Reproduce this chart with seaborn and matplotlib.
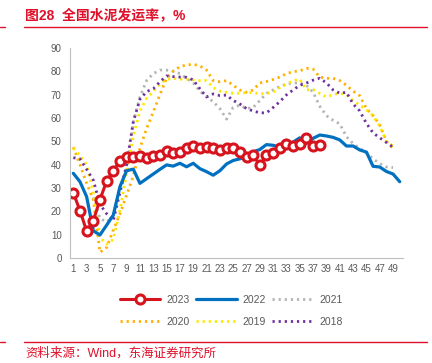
import numpy as np
import pandas as pd
import matplotlib
matplotlib.use("Agg")
import matplotlib.pyplot as plt
import seaborn as sns
from matplotlib.lines import Line2D

sns.set_style("white")
plt.rcParams['font.family'] = ['Liberation Sans', 'Noto Sans CJK SC', 'DejaVu Sans']

# ---------------- data ----------------
y2023 = [28, 20.3, 11.6, 16, 25, 33, 37.3, 41.7, 43.4, 43.4, 43.7, 43, 43.9, 44.3,
         46, 45, 45.6, 47, 48, 47, 47.4, 47, 46.3, 47.3, 47.3, 45.6, 43.4, 44.1,
         39.9, 44, 44.9, 47, 48.9, 48, 48.9, 51.5, 48, 48.4]
y2022 = [36.3, 32.7, 26.3, 11.7, 9.9, 14.1, 18.4, 30.6, 37.4, 38.1, 32, 34, 36, 38,
         39.9, 39.4, 40.6, 39.1, 40.6, 38.3, 37, 35.5, 37.4, 40.3, 41.8, 42.5, 43.5,
         45.5, 46.5, 48.6, 48.3, 47.5, 47.3, 49.7, 51.5, 49.1, 51.3, 52.7, 52.3, 51.7,
         50.6, 48, 48, 46.3, 45.4, 39.3, 39, 37.1, 36, 32.7]
start2021 = 4
y2021 = [26, 17, 15.5, 18, 30, 38, 58, 69, 76, 79, 80.5, 80.5, 80, 79, 77, 75, 71.5,
         69, 67, 64, 59.5, 64.5, 65.5, 64, 64.5, 67.5, 70.5, 72, 73.5, 74.5, 75, 75,
         74, 71, 65, 61, 59, 57.5, 52, 49, 47, 45, 42.5, 40.5, 39, 38.8]
y2020 = [47.5, 40, 32, 25, 2.5, 4.5, 12, 19, 27, 35, 47, 55.5, 62.5, 70, 77, 80, 82,
         82.7, 83, 82.3, 80.5, 76, 75.5, 76, 74, 72, 71, 72, 75, 75.6, 76.5, 77.5, 79,
         79.8, 80.2, 81.2, 80.9, 77.5, 77, 77, 76, 74, 71.5, 69.5, 64, 61, 57, 50, 47]
y2019 = [47, 44, 40, 28, 9, 6, 8, 20.5, 36.3, 52, 63, 68.4, 71.3, 74.5, 76.5, 77,
         76.6, 76.6, 76.3, 76, 76, 73, 71.5, 71, 70.6, 70.6, 70.8, 70.9, 70.3, 70.6,
         71, 73, 74.5, 76, 76.6, 72, 72.2, 70.5, 69, 70, 70.6, 70, 67.5, 65.5, 63.5,
         61, 56.5, 50, 48]
y2018 = [43, 42.5, 38, 33.4, 23, 19, 16, 28, 40, 58.4, 68, 71.3, 72.5, 75.5, 78,
         77.7, 77.5, 77.4, 76.3, 72.5, 69, 70.3, 69.6, 69.8, 67.5, 66, 64, 63, 62.2,
         62.2, 64.5, 67, 69.9, 72, 74, 75, 76.2, 77, 75, 72, 70.6, 71, 66, 63, 57.7,
         53.6, 51.5, 49.5, 47.5]

n_weeks = 50
week_labels = [str(w) for w in range(1, n_weeks + 1)]
y_ticks = [0, 10, 20, 30, 40, 50, 60, 70, 80, 90]

title = "图28  全国水泥发运率，%"
source = "资料来源：Wind，东海证券研究所"

def frame(vals, start=1):
    return pd.DataFrame({"x": np.arange(start - 1, start - 1 + len(vals)), "y": vals})

RED = "#D7141E"
BLUE = "#0070C0"
GRAY = "#B4B4B4"
ORANGE = "#FFB000"
YELLOW = "#FFE800"
PURPLE = "#7030A0"
dots = (0, (0.8, 1.4))

fig = plt.figure(figsize=(4.32, 3.63), dpi=100)
ax = fig.add_axes([0.162, 0.289, 0.771, 0.579])

series = [
    ("2021", frame(y2021, start2021), GRAY, dots, 2.0),
    ("2020", frame(y2020), ORANGE, dots, 2.0),
    ("2019", frame(y2019), YELLOW, dots, 2.0),
    ("2018", frame(y2018), PURPLE, dots, 2.0),
]
for name, df, c, ls, lw in series:
    sns.lineplot(data=df, x="x", y="y", ax=ax, color=c, linestyle=ls, linewidth=lw,
                 legend=False)

sns.lineplot(data=frame(y2022), x="x", y="y", ax=ax, color=BLUE, linewidth=2.3,
             legend=False)
sns.lineplot(data=frame(y2023), x="x", y="y", ax=ax, color=RED, linewidth=2.2,
             marker="o", markersize=6.5, markerfacecolor="white",
             markeredgecolor=RED, markeredgewidth=2.2, legend=False)

ax.set_xlim(-0.5, n_weeks - 0.5)
ax.set_ylim(0, 90)
ax.set_yticks(y_ticks)
ax.set_yticklabels([str(v) for v in y_ticks])
ax.set_xticks(np.arange(-0.5, n_weeks, 1))
ax.set_xticklabels([])
ax.set_xticks(np.arange(0, n_weeks, 2), minor=True)
ax.set_xticklabels(week_labels[::2], minor=True)
ax.tick_params(axis="x", which="major", length=3, width=0.6, color="#BFBFBF", direction="out")
ax.tick_params(axis="x", which="minor", length=0, labelsize=7, labelcolor="#595959", pad=4)
ax.tick_params(axis="y", length=3, width=0.6, color="#BFBFBF", labelsize=7,
               labelcolor="#595959", direction="out", pad=3)
ax.set_xlabel("")
ax.set_ylabel("")
for s in ["top", "right"]:
    ax.spines[s].set_visible(False)
for s in ["left", "bottom"]:
    ax.spines[s].set_color("#BFBFBF")
    ax.spines[s].set_linewidth(0.8)

handles = [
    Line2D([], [], color=RED, lw=2.2, marker="o", markersize=6.5, markerfacecolor="white",
           markeredgecolor=RED, markeredgewidth=2.2),
    Line2D([], [], color=GRAY, lw=2.0, linestyle=dots),
    Line2D([], [], color=BLUE, lw=2.3),
    Line2D([], [], color=YELLOW, lw=2.0, linestyle=dots),
    Line2D([], [], color=ORANGE, lw=2.0, linestyle=dots),
    Line2D([], [], color=PURPLE, lw=2.0, linestyle=dots),
]
# ordering for column-major fill: rows = (2023,2022,2021) / (2020,2019,2018)
handles = [handles[0], handles[4], handles[2], handles[3], handles[1], handles[5]]
labels = ["2023", "2020", "2022", "2019", "2021", "2018"]
fig.legend(handles, labels, loc="center", bbox_to_anchor=(0.535, 0.144), ncol=3,
           frameon=False, fontsize=7.5, handlelength=3.9, handletextpad=0.6,
           columnspacing=0.6, labelcolor="#595959", labelspacing=1.15)

fig.text(0.058, 0.958, title, color="#E0102A", fontsize=10, fontweight="bold",
         va="center", ha="left")
fig.add_artist(Line2D([0.056, 0.988], [0.925, 0.925], color="#E0102A", lw=1.0,
                      transform=fig.transFigure))
fig.add_artist(Line2D([0.0, 0.012], [0.925, 0.925], color="#E0102A", lw=1.0,
                      transform=fig.transFigure))
fig.add_artist(Line2D([0.056, 0.988], [0.059, 0.059], color="#E0102A", lw=1.0,
                      transform=fig.transFigure))
fig.add_artist(Line2D([0.0, 0.012], [0.059, 0.059], color="#E0102A", lw=1.0,
                      transform=fig.transFigure))
fig.text(0.058, 0.027, source, color="#E0102A", fontsize=9, va="center", ha="left")

fig.savefig("out.png", dpi=100)
